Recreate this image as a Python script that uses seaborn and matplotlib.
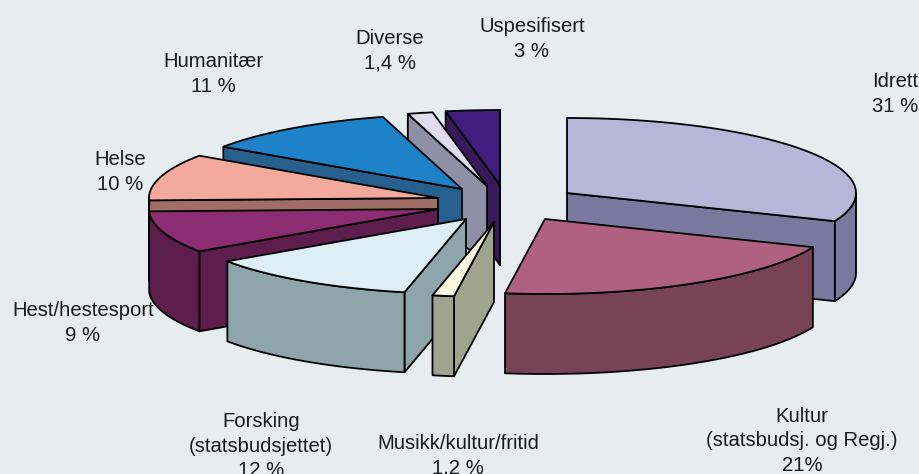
import numpy as np
import matplotlib
matplotlib.use("Agg")
import matplotlib.pyplot as plt
import seaborn as sns

# data
categories = ["Idrett", "Kultur\n(statsbudsj. og Regj.)", "Musikk/kultur/fritid",
              "Forsking\n(statsbudsjettet)", "Hest/hestesport", "Helse",
              "Humanitær", "Diverse", "Uspesifisert"]
shares = [31, 21, 1.2, 12, 9, 10, 11, 1.4, 3]
share_labels = ["31 %", "21%", "1,2 %", "12 %", "9 %", "10 %", "11 %", "1,4 %", "3 %"]

# styles
top_colors = ["#B8B6D8", "#B06080", "#F8F7E0", "#DEEEF7", "#8C2C72",
              "#F3A99C", "#1E82C8", "#DEDCEE", "#411D80"]
wall_colors = ["#7B78A0", "#784355", "#A0A48F", "#8DA5AB", "#5D1E4D",
               "#A06E67", "#27608E", "#8E90A6", "#38195A"]
BG = "#E7ECF0"

# layout (pixel space)
RX, RY, DEPTH = 289, 75, 80
apex_x = [567, 545, 494, 466, 438, 438, 462, 487, 500]
apex_y = [193, 219, 222, 219, 209, 198, 189, 186, 185]
label_x = [895, 802, 458, 261, 83, 120, 213, 390, 532]
label_y = [94, 441, 456, 446, 323, 172, 74, 51, 39]
draw_order = [8, 7, 6, 5, 4, 0, 1, 3, 2]

sns.set_theme(style="white", rc={"figure.facecolor": BG, "axes.facecolor": BG})
plt.rcParams["font.family"] = ["Liberation Sans", "DejaVu Sans"]
tops = sns.color_palette(top_colors)
walls = sns.color_palette(wall_colors)

fig = plt.figure(figsize=(9.2, 4.74), dpi=100)
ax = fig.add_axes([0, 0, 1, 1])
ax.set_xlim(0, 920)
ax.set_ylim(474, 0)
ax.axis("off")

vals = np.array(shares, dtype=float)
edges = np.concatenate([[0], np.cumsum(vals)]) / vals.sum() * 2 * np.pi


def rim(cx, cy, a, b, n=80):
    t = np.linspace(a, b, n)
    return cx + RX * np.sin(t), cy - RY * np.cos(t)


LW = 1.3
for i in draw_order:
    a, b = edges[i], edges[i + 1]
    cx, cy = apex_x[i], apex_y[i]
    style = dict(facecolor=walls[i], edgecolor="black", linewidth=LW, joinstyle="round")
    # straight cut faces that look towards the viewer
    for theta, visible in ((a, np.sin(a) < 0), (b, np.sin(b) > 0)):
        if visible:
            ex, ey = cx + RX * np.sin(theta), cy - RY * np.cos(theta)
            ax.fill([cx, ex, ex, cx], [cy, ey, ey + DEPTH, cy + DEPTH], **style)
    # curved outer face
    lo, hi = max(a, np.pi / 2), min(b, 3 * np.pi / 2)
    if lo < hi:
        x, y = rim(cx, cy, lo, hi)
        ax.fill(np.r_[x, x[::-1]], np.r_[y, y[::-1] + DEPTH], **style)
    # top face
    x, y = rim(cx, cy, a, b)
    ax.fill(np.r_[cx, x], np.r_[cy, y], facecolor=tops[i], edgecolor="black",
            linewidth=LW, joinstyle="round")

for name, lab, lx, ly in zip(categories, share_labels, label_x, label_y):
    ax.text(lx, ly, f"{name}\n{lab}", ha="center", va="center", ma="center",
            fontsize=14.6, color="#1a1a1a", linespacing=1.38)

fig.savefig("out.png", dpi=100, facecolor=BG)
